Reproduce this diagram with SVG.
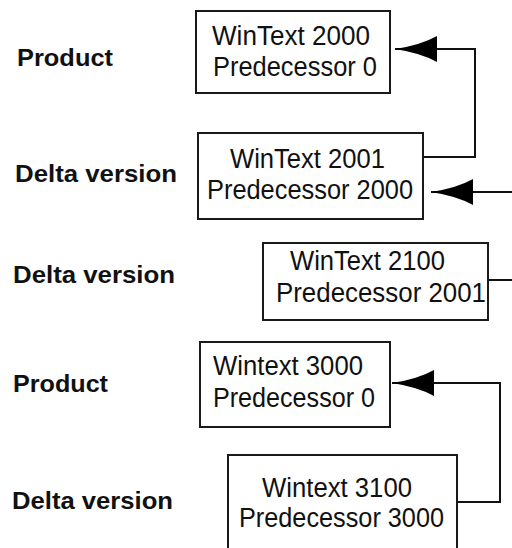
<svg xmlns="http://www.w3.org/2000/svg" width="512" height="548" viewBox="0 0 512 548">
<style>
.box{fill:#fff;stroke:#1a1a1a;stroke-width:2}
.nt{font-family:"Liberation Sans",Arial,sans-serif;font-size:27px;fill:#111}
.lb{font-family:"Liberation Sans",Arial,sans-serif;font-size:24px;font-weight:bold;fill:#111}
.con{fill:none;stroke:#111;stroke-width:2}
</style>
<defs>
<marker id="ah" viewBox="0 0 42 26" refX="42" refY="13" markerWidth="42" markerHeight="26" markerUnits="userSpaceOnUse" orient="auto">
<path d="M0,0 Q16,9 42,13 Q16,17 0,26 Z" fill="#000"/>
</marker>
</defs>
<rect width="512" height="548" fill="#fff"/>
<g id="labels">
<text class="lb" x="17" y="66" textLength="96" lengthAdjust="spacingAndGlyphs">Product</text>
<text class="lb" x="15" y="182" textLength="162" lengthAdjust="spacingAndGlyphs">Delta version</text>
<text class="lb" x="13" y="283" textLength="162" lengthAdjust="spacingAndGlyphs">Delta version</text>
<text class="lb" x="13" y="392" textLength="95" lengthAdjust="spacingAndGlyphs">Product</text>
<text class="lb" x="12" y="509" textLength="161" lengthAdjust="spacingAndGlyphs">Delta version</text>
</g>
<g id="connectors">
<path class="con" d="M423,157 H475 V49 H395" marker-end="url(#ah)"/>
<path class="con" d="M512,192 H431" marker-end="url(#ah)"/>
<path class="con" d="M488,280 H512"/>
<path class="con" d="M457,502 H500 V383 H392" marker-end="url(#ah)"/>
</g>
<g id="n2000">
<rect class="box" x="196" y="11" width="194" height="82"/>
<text class="nt" x="212" y="45" textLength="158" lengthAdjust="spacingAndGlyphs">WinText 2000</text>
<text class="nt" x="213" y="76" textLength="164" lengthAdjust="spacingAndGlyphs">Predecessor 0</text>
</g>
<g id="n2001">
<rect class="box" x="198" y="133" width="225" height="86"/>
<text class="nt" x="230" y="168" textLength="155" lengthAdjust="spacingAndGlyphs">WinText 2001</text>
<text class="nt" x="207" y="199" textLength="206" lengthAdjust="spacingAndGlyphs">Predecessor 2000</text>
</g>
<g id="n2100">
<rect class="box" x="263" y="243" width="225" height="77"/>
<text class="nt" x="290" y="270" textLength="155" lengthAdjust="spacingAndGlyphs">WinText 2100</text>
<text class="nt" x="276" y="302" textLength="210" lengthAdjust="spacingAndGlyphs">Predecessor 2001</text>
</g>
<g id="n3000">
<rect class="box" x="200" y="342" width="190" height="85"/>
<text class="nt" x="213" y="375" textLength="150" lengthAdjust="spacingAndGlyphs">Wintext 3000</text>
<text class="nt" x="213" y="407" textLength="162" lengthAdjust="spacingAndGlyphs">Predecessor 0</text>
</g>
<g id="n3100">
<rect class="box" x="228" y="455" width="229" height="100"/>
<text class="nt" x="262" y="497" textLength="150" lengthAdjust="spacingAndGlyphs">Wintext 3100</text>
<text class="nt" x="239" y="527" textLength="205" lengthAdjust="spacingAndGlyphs">Predecessor 3000</text>
</g>
</svg>
